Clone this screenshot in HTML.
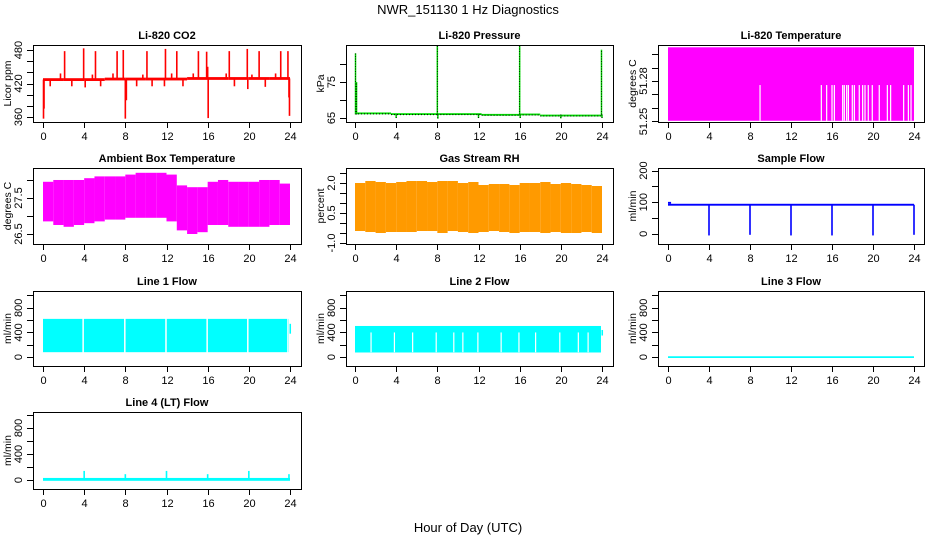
<!DOCTYPE html>
<html><head><meta charset="utf-8"><style>
html,body{margin:0;padding:0;background:#fff;}
svg{display:block;font-family:"Liberation Sans",Arial,sans-serif;}
</style></head><body>
<svg id="chart" width="936" height="540" viewBox="0 0 936 540" xmlns="http://www.w3.org/2000/svg">
<text x="468" y="14" font-size="13" text-anchor="middle">NWR_151130  1 Hz Diagnostics</text>
<text x="468" y="532" font-size="13" text-anchor="middle">Hour of Day (UTC)</text>
</svg>
<script>
// ---- data ----
const xTicks = [0,4,8,12,16,20,24];
const co2BaseHours = [0,2,4,6,8,10,12,14,16,18,20,22,24];
const co2Base = [427,427,427,428,428,428,428,429,429,429,429,429,429];
const co2SpikeHours = [2.1,3.95,5.1,7.2,7.8,10.1,11.9,13.0,15.1,15.9,18.1,19.85,21.0,23.1,23.8,1.7,4.8,6.8,9.7,12.5,14.6,17.8,20.3,22.6,16.0,0.05,0.1,8.0,8.1,16.05,23.95,23.9,0.7,2.8,4.1,5.6,9.1,10.6,11.8,13.6,18.6,19.9,21.6];
const co2SpikeValues = [478,483,478,478,480,478,482,478,478,477,478,482,478,478,478,438,436,438,436,438,438,438,436,438,450,357,375,357,390,358,362,395,415,415,413,415,415,415,415,415,415,410,414];
const presBaseHours = [0,3.5,8,12.3,16,18,24];
const presBase = [66.3,66.1,66.1,65.9,66.0,65.7,65.7];
const presSpikeHours = [0.05,0.15,8.0,16.0,23.95,4.0,8.05,12.0,16.05,20.0,24.0];
const presSpikeValues = [83,75,86,85,84,65.0,64.8,65.0,65.0,64.9,65.0];
const tempLow = 51.2505, tempMid = 51.277, tempHigh = 51.305;
const tempGapHours = [8.98,14.96,15.48,16.0,16.23,17.04,17.2,17.43,17.6,17.98,18.18,18.66,18.99,19.22,19.54,19.93,20.61,21.4,21.72,22.99,23.45,23.71];
const ambMax = [27.95,28.0,28.0,28.0,28.05,28.1,28.1,28.1,28.15,28.2,28.2,28.2,28.15,27.85,27.8,27.8,27.95,28.0,27.95,27.95,27.95,28.0,28.0,27.9];
const ambMin = [26.85,26.75,26.7,26.75,26.8,26.85,26.9,26.9,26.95,26.95,26.95,26.95,26.85,26.6,26.5,26.55,26.75,26.75,26.7,26.7,26.7,26.7,26.75,26.75];
const rhMax = [2.0,2.1,2.05,2.0,2.05,2.1,2.1,2.05,2.1,2.1,2.0,2.05,1.9,1.95,1.95,1.9,2.0,2.0,2.05,1.95,2.0,1.95,1.9,1.85];
const rhMin = [-0.4,-0.45,-0.5,-0.45,-0.45,-0.45,-0.4,-0.4,-0.5,-0.4,-0.45,-0.5,-0.45,-0.4,-0.45,-0.5,-0.45,-0.45,-0.5,-0.45,-0.5,-0.5,-0.45,-0.5];
const flowBase = 92, flowStart = 98;
const flowDipHours = [4,8,12,16,20,24];
const flowDipValues = [-5,-3,-5,-5,-5,-3];
const line1Max = 620, line1Min = 80;
const line1GapHours = [3.9,7.95,11.95,15.95,19.9,23.8];
const line2Max = 505, line2Min = 75;
const line2GapHours = [1.56,3.83,5.6,7.89,9.6,10.48,11.94,14.2,15.93,17.55,19.9,21.7,22.65];
const line3Value = 0;
const line4Base = 10;
const line4SpikeHours = [4.0,8.0,12.0,16.0,20.0,23.9];
const line4SpikeValues = [140,90,140,90,140,90];

// ---- layout ----
const NS = "http://www.w3.org/2000/svg";
const svg = document.getElementById('chart');
const cols = [{l:33,r:301,x0:43,x24:290},{l:346,r:613,x0:355,x24:602},{l:658,r:924,x0:668,x24:914}];
const rows = [{t:45,b:122},{t:168,b:244},{t:291,b:366},{t:412,b:489}];
let clipId = 0;
function mk(tag, attrs, parent){ const e=document.createElementNS(NS,tag); for(const k in attrs) e.setAttribute(k,attrs[k]); parent.appendChild(e); return e; }

function panel(name, title, ci, ri, ylim, ticks, labels, ylab){
  const c=cols[ci], r=rows[ri];
  const p = {};
  p.sx = h => c.x0 + h/24*(c.x24-c.x0);
  p.sy = v => r.b - (v-ylim[0])/(ylim[1]-ylim[0])*(r.b-r.t);
  const g = mk('g',{},svg);
  
  
  clipId++;
  const cp = mk('clipPath',{id:'cp'+clipId},g);
  mk('rect',{x:c.l,y:r.t,width:c.r-c.l,height:r.b-r.t},cp);
  p.data = mk('g',{'clip-path':'url(#cp'+clipId+')'},g);
  
  
  const ax = mk('g',{stroke:'#000','stroke-width':1,fill:'none'},g);
  const box = mk('rect',{x:c.l+0.5,y:r.t+0.5,width:c.r-c.l,height:r.b-r.t},ax);
  
  
  const t = mk('text',{x:(c.l+c.r)/2,y:r.t-6,'font-size':11,'font-weight':'bold','text-anchor':'middle'},g);
  t.textContent = title;
  
  
  xTicks.forEach(h=>{
    const x=Math.round(p.sx(h))+0.5;
    mk('line',{x1:x,x2:x,y1:r.b,y2:r.b+6},ax);
    const tl = mk('text',{x:x,y:r.b+18,'font-size':11,'text-anchor':'middle'},g);
    tl.textContent = h;
    
    
  });
  ticks.forEach(v=>{
    const y=Math.round(p.sy(v))+0.5;
    mk('line',{x1:c.l-6,x2:c.l,y1:y,y2:y},ax);
  });
  labels.forEach(s=>{
    const y=p.sy(parseFloat(s));
    const yl = mk('text',{x:0,y:0,'font-size':11,'text-anchor':'middle',transform:'translate('+(c.l-11)+','+y+') rotate(-90)'},g);
    yl.textContent = s;
    
    
  });
  const yt = mk('text',{x:0,y:0,'font-size':10.5,'text-anchor':'middle',transform:'translate('+(c.l-22)+','+((r.t+r.b)/2)+') rotate(-90)'},g);
  yt.textContent = ylab;
  
  
  return p;
}
function vbar(p, h, v1, v2, w, color){
  const x=p.sx(h), y1=p.sy(v1), y2=p.sy(v2);
  return mk('rect',{x:x-w/2,y:Math.min(y1,y2),width:w,height:Math.max(1,Math.abs(y2-y1)),fill:color},p.data);
}
function band(p, h1, h2, v1, v2, color){
  const x1=p.sx(h1), x2=p.sx(h2), y1=p.sy(v1), y2=p.sy(v2);
  return mk('rect',{x:x1,y:Math.min(y1,y2),width:Math.max(1,x2-x1),height:Math.max(1,Math.abs(y2-y1)),fill:color},p.data);
}

// CO2
const pc = panel('co2','Li-820 CO2',0,0,[351,489],[360,380,400,420,440,460,480],['360','420','480'],'Licor ppm');
for(let i=0;i<co2BaseHours.length-1;i++){
  const b = band(pc, co2BaseHours[i], co2BaseHours[i+1], co2Base[i]-2.5, co2Base[i]+2.5, '#ff0000');
  
  
}
co2SpikeHours.forEach((h,i)=>{
  const base = co2Base[Math.min(co2Base.length-1, Math.round(h/2))];
  const s = vbar(pc, h, base, co2SpikeValues[i], 1.6, '#ff0000');
  
  
});

// Pressure
const pp = panel('pressure','Li-820 Pressure',1,0,[63.9,85.3],[65,70,75,80],['65','75'],'kPa');
for(let i=0;i<presBaseHours.length-1;i++){
  const b = band(pp, presBaseHours[i], presBaseHours[i+1], presBase[i]-0.25, presBase[i]+0.25, '#00dd00');
  
  
  const d = mk('line',{x1:pp.sx(presBaseHours[i]),x2:pp.sx(presBaseHours[i+1]),y1:pp.sy(presBase[i])+0.5,y2:pp.sy(presBase[i])+0.5,stroke:'#000','stroke-width':1,'stroke-dasharray':'1 2'},pp.data);
  
  
}
presSpikeHours.forEach((h,i)=>{
  const s = vbar(pp, h, 66, presSpikeValues[i], 1.5, '#00dd00');
  
  
  const d = mk('line',{x1:pp.sx(h),x2:pp.sx(h),y1:pp.sy(66),y2:pp.sy(presSpikeValues[i]),stroke:'#000','stroke-width':0.8,'stroke-dasharray':'1 1.5'},pp.data);
  
  
});

// Li-820 temperature
const pt = panel('li820-temp','Li-820 Temperature',2,0,[51.2496,51.3067],[51.25,51.26,51.27,51.28,51.29,51.30],['51.25','51.28'],'degrees C');
const tb = band(pt, 0, 24, tempLow, tempHigh, '#ff00ff');


tempGapHours.forEach(h=>{
  const gp = vbar(pt, h, tempLow, tempMid, 1.2, '#ffffff');
  
  
});

// Ambient box temperature
const pa = panel('ambient-temp','Ambient Box Temperature',0,1,[26.222,28.333],[26.5,27.0,27.5,28.0],['26.5','27.5'],'degrees C');
ambMax.forEach((v,i)=>{
  const b = band(pa, i, i+1, ambMin[i], v, '#ff00ff');
  
  
});

// Gas stream RH
const pr = panel('gas-rh','Gas Stream RH',1,1,[-1.05,2.75],[-1.0,-0.5,0,0.5,1.0,1.5,2.0,2.5],['-1.0','0.5','2.0'],'percent');
rhMax.forEach((v,i)=>{
  const b = band(pr, i, i+1, rhMin[i], v, '#ff9a00');
  
  
});

// Sample flow
const ps = panel('sample-flow','Sample Flow',2,1,[-32,208],[0,50,100,150,200],['0','100','200'],'ml/min');
const sf0 = band(ps, 0, 0.3, flowStart-3, flowStart+3, '#0000ff');


const sf = band(ps, 0, 24, flowBase-3, flowBase+3, '#0000ff');


flowDipHours.forEach((h,i)=>{
  const d = vbar(ps, h, flowBase, flowDipValues[i], 1.6, '#0000ff');
  
  
});

// Line flows
const flowTicks=[0,200,400,600,800,1000], flowLabels=['0','400','800'];
const p1 = panel('line1-flow','Line 1 Flow',0,2,[-144,1072],flowTicks,flowLabels,'ml/min');
const l1 = band(p1, 0, 23.9, line1Min, line1Max, '#00ffff');


const l1t = band(p1, 23.95, 24.1, 380, 540, '#00ffff');


line1GapHours.forEach(h=>{
  const gp = vbar(p1, h, line1Min-20, line1Max+20, 1.5, '#ffffff');
  
  
});

const p2 = panel('line2-flow','Line 2 Flow',1,2,[-144,1072],flowTicks,flowLabels,'ml/min');
const l2 = band(p2, 0, 23.9, line2Min, line2Max, '#00ffff');


const l2t = band(p2, 23.95, 24.1, 350, 440, '#00ffff');


line2GapHours.forEach(h=>{
  const gp = vbar(p2, h, line2Min+5, 400, 1.2, '#ffffff');
  
  
});

const p3 = panel('line3-flow','Line 3 Flow',2,2,[-144,1072],flowTicks,flowLabels,'ml/min');
const l3 = band(p3, 0, 24, line3Value-14, line3Value+14, '#00ffff');



const p4 = panel('line4-flow','Line 4 (LT) Flow',0,3,[-138,1046],flowTicks,flowLabels,'ml/min');
const l4 = band(p4, 0, 24, line4Base-22, line4Base+22, '#00ffff');


line4SpikeHours.forEach((h,i)=>{
  const s = vbar(p4, h, line4Base, line4SpikeValues[i], 1.6, '#00ffff');
  
  
});
</script>
</body></html>
